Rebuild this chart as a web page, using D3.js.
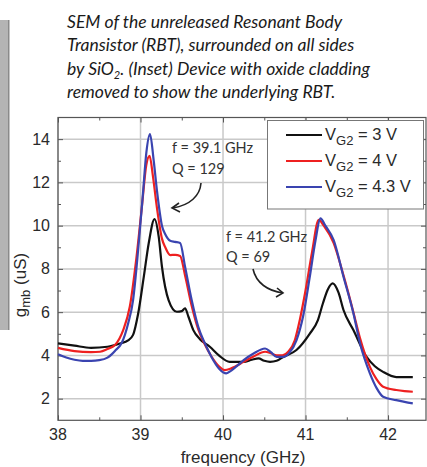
<!DOCTYPE html>
<html>
<head>
<meta charset="utf-8">
<script src="https://cdn.jsdelivr.net/npm/d3@7"></script>
<style>
  html, body { margin: 0; padding: 0; background: #fff; }
  svg { display: block; }
</style>
</head>
<body>
<svg id="chart" width="427" height="467"></svg>
<script>
// Transconductance g_mb versus frequency for three gate biases V_G2
const xTicks = [38, 39, 40, 41, 42];
const yTicks = [2, 4, 6, 8, 10, 12, 14];

const vg3Freq = [38.0, 38.2, 38.4, 38.6, 38.75, 38.85, 38.91, 38.97, 39.04, 39.1, 39.17, 39.22, 39.26, 39.34, 39.44, 39.5, 39.54, 39.58, 39.64, 39.72, 39.84, 39.95, 40.08, 40.25, 40.35, 40.43, 40.5, 40.57, 40.65, 40.73, 40.89, 41.05, 41.15, 41.21, 41.27, 41.33, 41.4, 41.46, 41.58, 41.74, 41.84, 41.94, 42.1, 42.3];
const vg3Gmb  = [4.56, 4.45, 4.35, 4.4, 4.55, 4.7, 4.95, 5.9, 7.64, 9.2, 10.3, 9.5, 8.1, 6.56, 6.02, 6.05, 6.18, 5.8, 5.17, 4.75, 4.4, 4.0, 3.7, 3.7, 3.8, 3.86, 3.75, 3.7, 3.75, 3.93, 4.25, 5.0, 5.63, 6.4, 7.05, 7.33, 6.9, 6.1, 5.17, 3.93, 3.5, 3.24, 3.0, 3.0];

const vg4Freq = [38.0, 38.2, 38.4, 38.51, 38.6, 38.69, 38.79, 38.87, 38.95, 39.02, 39.07, 39.11, 39.15, 39.2, 39.26, 39.3, 39.36, 39.42, 39.48, 39.54, 39.62, 39.7, 39.78, 39.86, 39.95, 40.02, 40.1, 40.25, 40.37, 40.51, 40.58, 40.65, 40.72, 40.79, 40.87, 40.93, 41.0, 41.08, 41.16, 41.22, 41.34, 41.46, 41.58, 41.66, 41.78, 41.86, 41.94, 42.1, 42.2, 42.3];
const vg4Gmb  = [4.35, 4.2, 4.15, 4.17, 4.3, 4.48, 5.17, 6.25, 8.5, 11.0, 12.8, 13.23, 12.3, 10.8, 9.4, 9.0, 8.64, 8.65, 8.6, 7.7, 6.3, 5.2, 4.5, 3.95, 3.5, 3.32, 3.4, 3.7, 3.95, 4.17, 4.1, 4.0, 4.0, 4.17, 4.7, 5.63, 7.0, 8.8, 10.27, 10.0, 9.2, 7.7, 6.0, 4.8, 3.47, 2.9, 2.55, 2.4, 2.35, 2.32];

const vg43Freq = [38.0, 38.1, 38.2, 38.3, 38.4, 38.5, 38.6, 38.65, 38.7, 38.77, 38.85, 38.91, 38.96, 39.03, 39.07, 39.115, 39.16, 39.2, 39.26, 39.3, 39.36, 39.42, 39.48, 39.54, 39.62, 39.7, 39.78, 39.86, 39.95, 40.04, 40.1, 40.18, 40.25, 40.37, 40.51, 40.58, 40.65, 40.73, 40.8, 40.89, 40.97, 41.05, 41.12, 41.18, 41.24, 41.34, 41.46, 41.58, 41.66, 41.78, 41.86, 41.94, 42.1, 42.2, 42.3];
const vg43Gmb  = [4.05, 3.9, 3.8, 3.75, 3.75, 3.78, 3.9, 4.05, 4.25, 4.56, 5.48, 6.56, 8.4, 11.5, 13.35, 14.23, 13.0, 11.6, 10.0, 9.6, 9.3, 9.25, 9.2, 8.1, 6.56, 5.32, 4.56, 3.93, 3.4, 3.17, 3.3, 3.55, 3.78, 4.09, 4.32, 4.15, 3.93, 3.93, 4.1, 4.7, 5.8, 7.6, 9.3, 10.34, 10.0, 9.34, 7.64, 5.95, 4.56, 3.17, 2.5, 2.09, 1.93, 1.85, 1.78];

const seriesNames = ["3 V", "4 V", "4.3 V"];
const seriesColors = ["#111111", "#ee2020", "#3a44b0"];

const titleLines = [
  "SEM of the unreleased Resonant Body",
  "Transistor (RBT), surrounded on all sides",
  ["by SiO", "2", ". (Inset) Device with oxide cladding"],
  "removed to show the underlying RBT."
];

const svg = d3.select("#chart");

// grey edge strip along the left side
svg.append("rect").attr("x", 0).attr("y", 20).attr("width", 9).attr("height", 310).attr("fill", "#b4b4b4");
svg.append("rect").attr("x", 8).attr("y", 20).attr("width", 1.5).attr("height", 310).attr("fill", "#8a8a8a");

// caption
const cap = svg.append("g")
  .attr("font-family", "Lato, 'Open Sans', sans-serif")
  .attr("font-style", "italic")
  .attr("font-size", 17.5)
  .attr("fill", "#1a1a1a");
titleLines.forEach((line, i) => {
  const t = cap.append("text").attr("x", 67).attr("y", 28 + i * 23.3);
  if (Array.isArray(line)) {
    t.append("tspan").text(line[0]);
    t.append("tspan").attr("dy", 4).attr("font-size", 11).text(line[1]);
    t.append("tspan").attr("dy", -4).text(line[2]);
  } else {
    t.text(line);
  }
});

// plot area
const plotL = 58, plotR = 426, plotT = 117.5, plotB = 420.3;
const x = d3.scaleLinear().domain([38, 42.46]).range([plotL, plotR]);
const y = d3.scaleLinear().domain([1, 15]).range([plotB, plotT]);

const plot = svg.append("g");

// grid
plot.append("g").selectAll("line").data(xTicks).join("line")
  .attr("x1", d => x(d)).attr("x2", d => x(d))
  .attr("y1", plotT).attr("y2", plotB)
  .attr("stroke", "#c9c9c9").attr("stroke-width", 1.5);
plot.append("g").selectAll("line").data(yTicks).join("line")
  .attr("x1", plotL).attr("x2", plotR)
  .attr("y1", d => y(d)).attr("y2", d => y(d))
  .attr("stroke", "#c9c9c9").attr("stroke-width", 1.5);

// axes with inward ticks on all four sides
const minorX = d3.range(38.5, 42.46, 1);
const minorY = d3.range(3, 15, 2);
const axisColor = "#555";
function tickAxis(axisGen, transform) {
  const g = plot.append("g").attr("transform", transform).call(axisGen);
  g.select(".domain").remove();
  g.selectAll("line").attr("stroke", axisColor);
  return g;
}
tickAxis(d3.axisBottom(x).tickValues(xTicks).tickSize(-5).tickFormat(""), `translate(0,${plotB})`);
tickAxis(d3.axisBottom(x).tickValues(minorX).tickSize(-3).tickFormat(""), `translate(0,${plotB})`);
tickAxis(d3.axisTop(x).tickValues(xTicks).tickSize(-5).tickFormat(""), `translate(0,${plotT})`);
tickAxis(d3.axisTop(x).tickValues(minorX).tickSize(-3).tickFormat(""), `translate(0,${plotT})`);
tickAxis(d3.axisLeft(y).tickValues(yTicks).tickSize(-5).tickFormat(""), `translate(${plotL},0)`);
tickAxis(d3.axisLeft(y).tickValues(minorY).tickSize(-3).tickFormat(""), `translate(${plotL},0)`);
tickAxis(d3.axisRight(y).tickValues(yTicks).tickSize(-5).tickFormat(""), `translate(${plotR},0)`);
tickAxis(d3.axisRight(y).tickValues(minorY).tickSize(-3).tickFormat(""), `translate(${plotR},0)`);

// frame
plot.append("rect").attr("x", plotL).attr("y", plotT)
  .attr("width", plotR - plotL).attr("height", plotB - plotT)
  .attr("fill", "none").attr("stroke", axisColor).attr("stroke-width", 1.2);

// tick labels
const labelFont = "'Liberation Sans', Arial, sans-serif";
plot.append("g").selectAll("text").data(xTicks).join("text")
  .attr("x", d => x(d)).attr("y", 440)
  .attr("text-anchor", "middle")
  .attr("font-family", labelFont).attr("font-size", 16).attr("fill", "#2a2a2a")
  .text(d => d);
plot.append("g").selectAll("text").data(yTicks).join("text")
  .attr("x", 50).attr("y", d => y(d) + 5.5)
  .attr("text-anchor", "end")
  .attr("font-family", labelFont).attr("font-size", 16).attr("fill", "#2a2a2a")
  .text(d => d);

// axis titles
svg.append("text").attr("x", 243).attr("y", 463)
  .attr("text-anchor", "middle")
  .attr("font-family", labelFont).attr("font-size", 17).attr("fill", "#2a2a2a")
  .text("frequency (GHz)");
const yl = svg.append("text")
  .attr("transform", "translate(26,285) rotate(-90)")
  .attr("text-anchor", "middle")
  .attr("font-family", labelFont).attr("font-size", 17).attr("fill", "#2a2a2a");
yl.append("tspan").text("g");
yl.append("tspan").attr("dy", 4).attr("font-size", 13).text("mb");
yl.append("tspan").attr("dy", -4).text(" (uS)");

// curves
const seriesData = [
  d3.zip(vg3Freq, vg3Gmb),
  d3.zip(vg4Freq, vg4Gmb),
  d3.zip(vg43Freq, vg43Gmb)
];
const line = d3.line()
  .x(d => x(d[0])).y(d => y(d[1]))
  .curve(d3.curveMonotoneX);
plot.append("g").selectAll("path").data(seriesData).join("path")
  .attr("d", line)
  .attr("fill", "none")
  .attr("stroke", (d, i) => seriesColors[i])
  .attr("stroke-width", 2.2)
  .attr("stroke-linejoin", "round");

// annotations
const annFont = "Lato, 'Open Sans', sans-serif";
const ann = svg.append("g").attr("font-family", annFont).attr("font-size", 14.5).attr("fill", "#333");
ann.append("text").attr("x", 172).attr("y", 153).text("f = 39.1 GHz");
ann.append("text").attr("x", 172).attr("y", 174).text("Q = 129");
ann.append("text").attr("x", 226).attr("y", 242).text("f = 41.2 GHz");
ann.append("text").attr("x", 226).attr("y", 262).text("Q = 69");

const arrows = svg.append("g").attr("fill", "none").attr("stroke", "#222").attr("stroke-width", 1.6);
arrows.append("path").attr("d", "M201,183 C200,196 190,205 173,208");
arrows.append("path").attr("d", "M179,203 L172,208 L180,212");
arrows.append("path").attr("d", "M253,269 C256,283 268,291 283,293");
arrows.append("path").attr("d", "M277,288 L283,293 L276,297");

// legend
const lg = svg.append("g");
lg.append("rect").attr("x", 267.5).attr("y", 120.5).attr("width", 156).attr("height", 88.5)
  .attr("fill", "#fff").attr("stroke", "#777").attr("stroke-width", 1);
seriesNames.forEach((name, i) => {
  const ly = 135 + i * 26;
  lg.append("line").attr("x1", 286).attr("x2", 322).attr("y1", ly).attr("y2", ly)
    .attr("stroke", seriesColors[i]).attr("stroke-width", 2.2);
  const t = lg.append("text").attr("x", 325).attr("y", ly + 5)
    .attr("font-family", labelFont).attr("font-size", 16.5).attr("fill", "#2a2a2a");
  t.append("tspan").text("V");
  t.append("tspan").attr("dy", 5).attr("font-size", 13).text("G2");
  t.append("tspan").attr("dy", -5).text(" = " + name);
});
</script>
</body>
</html>
